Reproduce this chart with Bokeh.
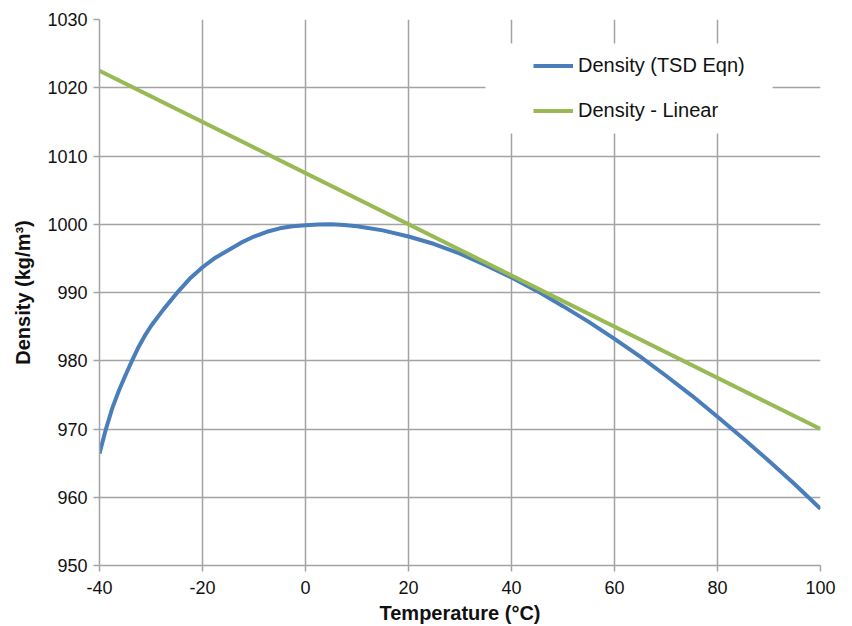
from bokeh.plotting import figure
from bokeh.models import Range1d, Legend, LegendItem, FixedTicker, BoxAnnotation
from bokeh.embed import file_html
from bokeh.resources import INLINE

# Data
temps_tsd = [-40, -38.75, -37.5, -36.25, -35, -33.75, -32.5, -31.25, -30, -27.5, -25,
             -22.5, -20, -17.5, -15, -12.5, -10, -7.5, -5, -2.5, 0, 2.5, 5, 7.5, 10,
             15, 20, 25, 30, 35, 40, 45, 50, 55, 60, 65, 70, 75, 80, 85, 90, 95, 100]
density_tsd = [966.4, 970.0, 973.1, 975.6, 977.8, 979.9, 981.9, 983.6, 985.1, 987.6,
               989.9, 992.0, 993.7, 995.1, 996.2, 997.3, 998.2, 998.9, 999.4, 999.7,
               999.85, 999.95, 1000.0, 999.9, 999.7, 999.1, 998.2, 997.1, 995.7, 994.0,
               992.2, 990.2, 988.0, 985.7, 983.2, 980.6, 977.8, 974.9, 971.8, 968.6,
               965.3, 961.9, 958.3]
temps_lin = [-40, 100]
density_lin = [1022.5, 970.0]
x_ticks = [-40, -20, 0, 20, 40, 60, 80, 100]
x_tick_labels = ["-40", "-20", "0", "20", "40", "60", "80", "100"]
y_ticks = [950, 960, 970, 980, 990, 1000, 1010, 1020, 1030]
series_names = ["Density (TSD Eqn)", "Density - Linear"]

FONT = "Liberation Sans"
GRID = "#a3a3a3"

p = figure(width=852, height=626, output_backend="svg", toolbar_location=None,
           x_range=Range1d(-40, 100), y_range=Range1d(950, 1030),
           min_border_left=99, min_border_right=32, min_border_top=19, min_border_bottom=61)
p.outline_line_color = None
p.background_fill_color = "white"
p.border_fill_color = "white"

for ax in (p.xaxis[0], p.yaxis[0]):
    ax.axis_line_color = GRID
    ax.axis_line_width = 1.5
    ax.major_tick_line_color = GRID
    ax.major_tick_line_width = 1.5
    ax.major_tick_out = 6
    ax.major_tick_in = 0
    ax.minor_tick_line_color = None
    ax.major_label_text_font = FONT
    ax.major_label_text_font_size = "18px"
    ax.major_label_text_color = "#111111"
    ax.axis_label_text_font = FONT
    ax.axis_label_text_font_style = "bold"
    ax.axis_label_text_font_size = "20px"
    ax.axis_label_text_color = "#111111"

p.xaxis.ticker = FixedTicker(ticks=x_ticks)
p.xaxis.major_label_overrides = {t: s for t, s in zip(x_ticks, x_tick_labels)}
p.yaxis.ticker = FixedTicker(ticks=y_ticks)
p.xaxis.axis_label = "Temperature (°C)"
p.yaxis.axis_label = "Density (kg/m³)"
p.xaxis.major_label_standoff = 9
p.yaxis.major_label_standoff = 6
p.xaxis.axis_label_standoff = 5
p.yaxis.axis_label_standoff = 10

p.xgrid.ticker = FixedTicker(ticks=x_ticks)
p.ygrid.ticker = FixedTicker(ticks=y_ticks)
for g in (p.xgrid[0], p.ygrid[0]):
    g.grid_line_color = GRID
    g.grid_line_width = 1.5

r_tsd = p.line(temps_tsd, density_tsd, line_color="#4A7EBB", line_width=4)
r_lin = p.line(temps_lin, density_lin, line_color="#98B954", line_width=4)

# legend background panel
p.add_layout(BoxAnnotation(left=34.95, right=90.7, bottom=1013.3, top=1026.5,
                           fill_color="white", fill_alpha=1.0, line_color=None,
                           level="underlay"))

legend = Legend(items=[LegendItem(label=series_names[0], renderers=[r_tsd]),
                       LegendItem(label=series_names[1], renderers=[r_lin])],
                location=(434, 432), padding=0, margin=0, spacing=0,
                glyph_width=40, glyph_height=45, label_height=45,
                label_standoff=5, border_line_color=None,
                background_fill_alpha=0.0,
                label_text_font=FONT, label_text_font_size="20px",
                label_text_color="#111111")
p.add_layout(legend)

open("out.html", "w").write(file_html(p, INLINE))
